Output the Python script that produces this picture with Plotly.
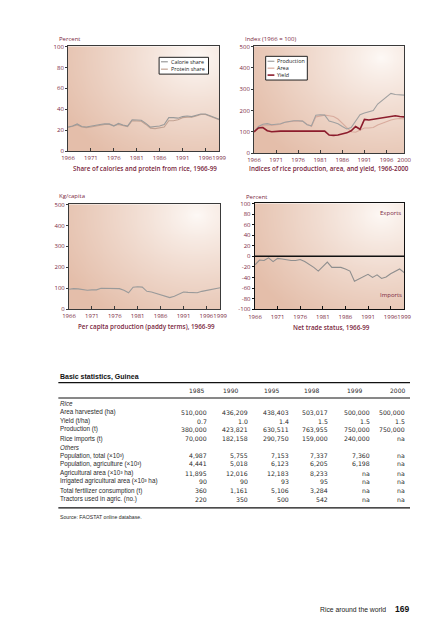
import numpy as np, zlib, struct, base64
import plotly.graph_objects as go

# ---------------- data ----------------
years_a = list(range(1966, 2000))
calorie_share = [23, 24, 26, 23.5, 23, 24, 24.5, 25.5, 26, 26, 24, 26.5, 25, 24, 30, 29.5, 29.5,
                 26.5, 23, 23.5, 24, 25.5, 32, 32, 31.5, 33, 33.5, 33, 34, 35.5, 35.5, 34, 32, 30.5]
protein_share = [22.5, 23.5, 25, 23, 22.5, 23, 24, 25, 25.5, 25.5, 24.5, 25.5, 24.5, 23.5, 29, 29, 28.5,
                 25.5, 22, 21.5, 22, 23, 29, 29, 30, 32, 32.5, 32.5, 33.5, 35, 35, 33.5, 31.5, 30]

years_b = list(range(1966, 2001))
production_idx = [100, 125, 135, 138, 133, 135, 138, 145, 150, 152, 152, 150, 133, 128, 178, 180, 178,
                  150, 145, 138, 125, 113, 120, 150, 180, 188, 195, 200, 230, 248, 262, 280, 275, 273, 272]
area_idx = [100, 120, 130, 132, 130, 133, 135, 145, 148, 150, 150, 150, 135, 125, 170, 175, 178,
            175, 172, 160, 140, 118, 100, 98, 110, 118, 118, 120, 132, 140, 148, 155, 160, 162, 160]
yield_idx = [100, 118, 120, 105, 100, 103, 103, 103, 103, 103, 103, 103, 103, 103, 103, 103, 103,
             85, 83, 85, 90, 95, 105, 125, 112, 158, 155, 158, 160, 165, 168, 172, 175, 172, 170]

per_capita = [95, 98, 97, 95, 90, 92, 92, 100, 100, 100, 100, 98, 90, 78, 105, 107, 105,
              85, 82, 75, 68, 62, 55, 62, 72, 82, 80, 78, 78, 85, 90, 95, 100, 102]
net_trade = [-16, -7, -8, -3, -10, -4, -5, -7, -8, -8, -6, -10, -15, -21, -28, -19, -11,
             -21, -21, -21, -24, -28, -47, -43, -38, -34, -40, -35, -42, -39, -33, -29, -24, -31]

xticks_a = [1966, 1971, 1976, 1981, 1986, 1991, 1996, 1999]
xticks_b = [1966, 1971, 1976, 1981, 1986, 1991, 1996, 2000]
yticks_pct = [0, 20, 40, 60, 80, 100]
yticks_500 = [0, 100, 200, 300, 400, 500]
yticks_trade = [-100, -80, -60, -40, -20, 0, 20, 40, 60, 80, 100]
yticks_trade_text = ["-100", "-80", "-60", "-40", "-20", "0", "20", "40", "60", "80", "100"]

table_years = ["1985", "1990", "1995", "1998", "1999", "2000"]
table_rows = [
    ("Rice", None),
    ("Area harvested (ha)", ["510,000", "436,209", "438,403", "503,017", "500,000", "500,000"]),
    ("Yield (t/ha)", ["0.7", "1.0", "1.4", "1.5", "1.5", "1.5"]),
    ("Production (t)", ["380,000", "423,821", "630,511", "763,955", "750,000", "750,000"]),
    ("Rice imports (t)", ["70,000", "182,158", "290,750", "159,000", "240,000", "na"]),
    ("Others", None),
    ("Population, total (×10³)", ["4,987", "5,755", "7,153", "7,337", "7,360", "na"]),
    ("Population, agriculture (×10³)", ["4,441", "5,018", "6,123", "6,205", "6,198", "na"]),
    ("Agricultural area (×10³ ha)", ["11,895", "12,016", "12,183", "8,233", "na", "na"]),
    ("Irrigated agricultural area (×10³ ha)", ["90", "90", "93", "95", "na", "na"]),
    ("Total fertilizer consumption (t)", ["360", "1,161", "5,106", "3,284", "na", "na"]),
    ("Tractors used in agric. (no.)", ["220", "350", "500", "542", "na", "na"]),
]

# ---------------- styling ----------------
W, H = 448, 640
MAROON = "#7a1f40"
FRAME = "#3a3a3a"
FONT = "Open Sans"
TFONT = "Liberation Sans"
NFONT = "DejaVu Sans"
TCOL = "#2a2a2a"
C_CAL, C_PRO = "#9a9a9a", "#c2a292"
C_PROD, C_AREA, C_YIELD = "#a0a0a0", "#d8ab9d", "#8c1c2c"
C_PC, C_NT = "#9a9a9a", "#8e8e8e"


def px(x):
    return x / W


def py(y):
    return 1 - y / H


def png_data_uri(arr):
    h, w, _ = arr.shape
    raw = b"".join(b"\x00" + arr[i].tobytes() for i in range(h))

    def chunk(t, d):
        c = struct.pack(">I", len(d)) + t + d
        return c + struct.pack(">I", zlib.crc32(t + d) & 0xffffffff)

    png = (b"\x89PNG\r\n\x1a\n"
           + chunk(b"IHDR", struct.pack(">IIBBBBB", w, h, 8, 2, 0, 0, 0))
           + chunk(b"IDAT", zlib.compress(raw, 9))
           + chunk(b"IEND", b""))
    return "data:image/png;base64," + base64.b64encode(png).decode()


gw, gh = 160, 110
u = np.linspace(0, 1, gw)[None, :]
v = np.linspace(1, 0, gh)[:, None]
d = np.sqrt(((u - 0.85) * 1.0) ** 2 + ((v - 0.9) * 0.85) ** 2)
t = np.clip(d / 1.0, 0, 1) ** 0.85
light = np.array([254, 250, 247], float)
dark = np.array([228, 190, 170], float)
grad = (light[None, None, :] + (dark - light)[None, None, :] * t[..., None]).astype(np.uint8)
GRAD = png_data_uri(grad)

fig = go.Figure()

# chart 1
fig.add_trace(go.Scatter(x=years_a, y=protein_share, mode="lines", line=dict(color=C_PRO, width=1.1),
                         xaxis="x", yaxis="y", showlegend=False))
fig.add_trace(go.Scatter(x=years_a, y=calorie_share, mode="lines", line=dict(color=C_CAL, width=1.1),
                         xaxis="x", yaxis="y", showlegend=False))
# chart 2
fig.add_trace(go.Scatter(x=years_b, y=area_idx, mode="lines", line=dict(color=C_AREA, width=1.1),
                         xaxis="x2", yaxis="y2", showlegend=False))
fig.add_trace(go.Scatter(x=years_b, y=production_idx, mode="lines", line=dict(color=C_PROD, width=1.1),
                         xaxis="x2", yaxis="y2", showlegend=False))
fig.add_trace(go.Scatter(x=years_b, y=yield_idx, mode="lines", line=dict(color=C_YIELD, width=1.6),
                         xaxis="x2", yaxis="y2", showlegend=False))
# chart 3
fig.add_trace(go.Scatter(x=years_a, y=per_capita, mode="lines", line=dict(color=C_PC, width=1.1),
                         xaxis="x3", yaxis="y3", showlegend=False))
# chart 4
fig.add_trace(go.Scatter(x=years_a, y=net_trade, mode="lines", line=dict(color=C_NT, width=1.1),
                         xaxis="x4", yaxis="y4", showlegend=False))

tickfont = dict(family=FONT, size=6, color=MAROON, weight=500)


def xax(dom, anchor, rng, ticks, fc=FRAME, lw=1):
    return dict(domain=dom, anchor=anchor, range=rng, tickvals=ticks, ticktext=[str(t) for t in ticks],
                tickangle=0, showgrid=False, zeroline=False, showline=True, mirror=True, linecolor=fc,
                linewidth=lw, ticks="inside", ticklen=3, tickcolor=fc, tickfont=tickfont, fixedrange=True,
                ticklabelstandoff=1)


def yax(dom, anchor, rng, ticks, texts=None, fc=FRAME, lw=1):
    return dict(domain=dom, anchor=anchor, range=rng, tickvals=ticks,
                ticktext=texts if texts else [str(t) for t in ticks],
                showgrid=False, zeroline=False, showline=True, mirror=True, linecolor=fc, linewidth=lw,
                ticks="outside", ticklen=2, tickcolor=fc, tickfont=tickfont, fixedrange=True)


boxes = {
    1: (63, 219, 43, 149),
    2: (255, 410, 43, 151),
    3: (64, 220, 203, 309),
    4: (256, 410, 202, 309),
}


def xd(i):
    b = boxes[i]
    return [px(b[0]), px(b[1])]


def yd(i):
    b = boxes[i]
    return [py(b[3]), py(b[2])]


fig.update_layout(
    xaxis=xax(xd(1), "y", [1966, 1999], xticks_a),
    yaxis=yax(yd(1), "x", [0, 100], yticks_pct),
    xaxis2=xax(xd(2), "y2", [1966, 2000], xticks_b),
    yaxis2=yax(yd(2), "x2", [0, 500], yticks_500),
    xaxis3=xax(xd(3), "y3", [1966, 1999], xticks_a),
    yaxis3=yax(yd(3), "x3", [0, 500], yticks_500),
    xaxis4=xax(xd(4), "y4", [1966, 1999], xticks_a, fc="#111111", lw=1.3),
    yaxis4=yax(yd(4), "x4", [-100, 100], yticks_trade, yticks_trade_text, fc="#111111", lw=1.3),
)

images = []
for i, s in [(1, ""), (2, "2"), (3, "3"), (4, "4")]:
    images.append(dict(source=GRAD, xref=f"x{s} domain", yref=f"y{s} domain", x=0, y=1, sizex=1, sizey=1,
                       sizing="stretch", layer="below", xanchor="left", yanchor="top"))

shapes = []
annotations = []


def ann(text, x, y, size=6, color=MAROON, xanchor="left", family=FONT, weight=None, italic=False, **kw):
    f = dict(family=family, size=size, color=color)
    if weight:
        f["weight"] = weight
    if italic:
        f["style"] = "italic"
    annotations.append(dict(text=text, x=px(x), y=py(y), xref="paper", yref="paper", showarrow=False,
                            xanchor=xanchor, yanchor="middle", font=f, **kw))


# axis unit titles
ann("Percent", 52, 35, weight=500)
ann("Index (1966 = 100)", 244, 35, weight=500)
ann("Kg/capita", 52, 194, weight=500)
ann("Percent", 245, 195, weight=500)
# captions
ann("Share of calories and protein from rice, 1966-99", 142, 167, size=6.3, xanchor="center", weight=600)
ann("Indices of rice production, area, and yield, 1966-2000", 332, 167, size=6.3, xanchor="center", weight=600)
ann("Per capita production (paddy terms), 1966-99", 144, 326.5, size=6.3, xanchor="center", weight=600)
ann("Net trade status, 1966-99", 335, 328, size=6.3, xanchor="center", weight=600)
# exports / imports
ann("Exports", 383, 212, weight=500)
ann("Imports", 383, 295, weight=500)

# zero line chart 4
shapes.append(dict(type="line", xref="x4 domain", yref="y4", x0=0, x1=1, y0=0, y1=0,
                   line=dict(color="#111111", width=1.4)))


# legends (manual)
def legend_box(x0, x1, y0, y1, items):
    shapes.append(dict(type="rect", xref="paper", yref="paper", x0=px(x0), x1=px(x1), y0=py(y1), y1=py(y0),
                       line=dict(color="#222222", width=1), fillcolor="white", layer="above"))
    for (label, color, yy, lw) in items:
        shapes.append(dict(type="line", xref="paper", yref="paper", x0=px(x0 + 2), x1=px(x0 + 9),
                           y0=py(yy), y1=py(yy), line=dict(color=color, width=lw), layer="above"))
        ann(label, x0 + 10, yy, size=5.4, color="#222222", weight=500)


legend_box(157, 208, 54, 71, [("Calorie share", C_CAL, 58.5, 1.2), ("Protein share", C_PRO, 66, 1.2)])
legend_box(267, 310, 53, 77, [("Production", C_PROD, 58, 1.2), ("Area", C_AREA, 65, 1.2),
                              ("Yield", C_YIELD, 72, 1.6)])

# ---------------- table ----------------
TX0, TX1 = 53, 416
ann("Basic statistics, Guinea", TX0, 378, size=7, color="#111111", family=TFONT, weight="bold")
shapes.append(dict(type="line", xref="paper", yref="paper", x0=px(TX0), x1=px(TX1), y0=py(383.5), y1=py(383.5),
                   line=dict(color="#111111", width=1.3)))
col_right = [208.7, 250.7, 293.3, 333.3, 376.7, 413.3]
head_right = [205.3, 240, 283, 324, 368, 413]
for yr, xr in zip(table_years, head_right):
    ann(yr, xr, 391.7, size=6, color=TCOL, family=NFONT, xanchor="right")
shapes.append(dict(type="line", xref="paper", yref="paper", x0=px(TX0), x1=px(TX1), y0=py(399), y1=py(399),
                   line=dict(color="#111111", width=1)))
row_y = [404.3, 413.3, 422.3, 430.7, 440, 449.3, 457.3, 465.7, 475, 483.3, 492.7, 501.7]
for (label, vals), yy in zip(table_rows, row_y):
    if vals is None:
        ann(label, TX0, yy, size=6.3, color=TCOL, family=TFONT, italic=True)
    else:
        ann(label, TX0, yy, size=6.3, color=TCOL, family=TFONT)
        for val, xr in zip(vals, col_right):
            ann(val, xr, yy, size=6.2, color=TCOL, family=NFONT, xanchor="right")
shapes.append(dict(type="line", xref="paper", yref="paper", x0=px(TX0), x1=px(TX1), y0=py(510.3), y1=py(510.3),
                   line=dict(color="#111111", width=1.3)))
ann("Source: FAOSTAT online database.", TX0, 519.3, size=5.2, color=TCOL, family=TFONT)

# footer
ann("Rice around the world", 393, 613, size=6.8, color="#222222", family=TFONT, xanchor="right")
ann("169", 417, 613, size=8.5, color="#111111", family=TFONT, xanchor="right", weight="bold")

fig.update_layout(
    width=W, height=H, margin=dict(l=0, r=0, t=0, b=0),
    paper_bgcolor="white", plot_bgcolor="white",
    images=images, shapes=shapes, annotations=annotations, showlegend=False,
    font=dict(family=FONT, color=MAROON),
)

fig.write_html("out.html", config={"displayModeBar": False, "staticPlot": True},
               post_script="document.body.style.margin='0';document.body.style.overflow='hidden';")
